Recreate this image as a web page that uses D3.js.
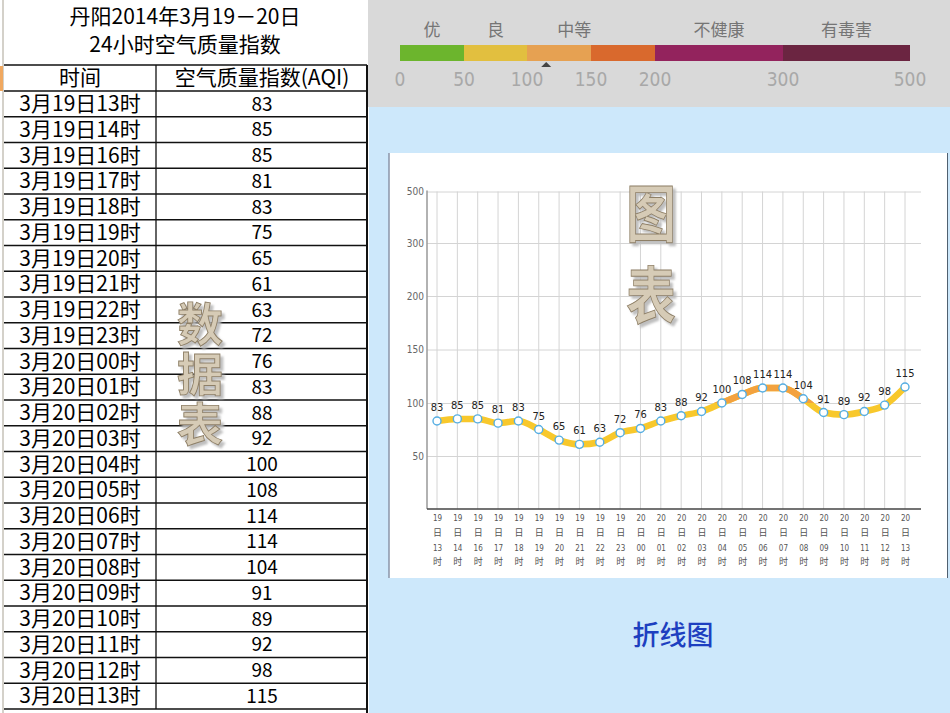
<!DOCTYPE html>
<html>
<head>
<meta charset="utf-8">
<script src="https://cdn.jsdelivr.net/npm/d3@7"></script>
<style>
  body { margin: 0; background: #fff; }
  svg { display: block; }
</style>
</head>
<body>
<div id="chart"></div>
<script>
// data
var days = ['19','19','19','19','19','19','19','19','19','19','20','20','20','20','20','20','20','20','20','20','20','20','20','20'];
var hours = ['13','14','16','17','18','19','20','21','22','23','00','01','02','03','04','05','06','07','08','09','10','11','12','13'];
var aqi = [83, 85, 85, 81, 83, 75, 65, 61, 63, 72, 76, 83, 88, 92, 100, 108, 114, 114, 104, 91, 89, 92, 98, 115];
var yTicks = [50, 100, 150, 200, 300, 500];
var levelNames = ['优', '良', '中等', '不健康', '有毒害'];
var levelMid = [25, 75, 137, 250, 400];
var levelBreaks = [0, 50, 100, 150, 200, 300, 500];
var levelColors = ['#6cb52d', '#e2bf3f', '#e6a152', '#d9692d', '#93235d', '#6b2541'];
var currentAqi = 115;

var W = 950, H = 713;
var cjk = '"Noto Sans CJK SC", sans-serif';
var narrow = '"Liberation Sans Narrow", "DejaVu Sans Condensed", sans-serif';

var svg = d3.select('#chart').append('svg')
  .attr('width', W)
  .attr('height', H);

var defs = svg.append('defs');
var shadow = defs.append('filter').attr('id', 'shadow')
  .attr('x', '-20%').attr('y', '-20%').attr('width', '150%').attr('height', '150%');
shadow.append('feDropShadow').attr('dx', 3).attr('dy', 3).attr('stdDeviation', 0.8)
  .attr('flood-color', '#b8b8b8').attr('flood-opacity', 0.9);

// ---------- left: data table ----------
svg.append('rect').attr('x', 0).attr('y', 0).attr('width', 368).attr('height', H).attr('fill', '#fff');
svg.append('line').attr('x1', 3).attr('x2', 3).attr('y1', 0).attr('y2', H)
  .attr('stroke', '#a9a394').attr('stroke-width', 1);
svg.append('rect').attr('x', 0).attr('y', 66).attr('width', 3).attr('height', 25).attr('fill', '#f0a860');

svg.append('text').attr('x', 185).attr('y', 17).attr('dy', '0.35em')
  .attr('text-anchor', 'middle').attr('font-family', cjk).attr('font-size', 21)
  .text('丹阳2014年3月19－20日');
svg.append('text').attr('x', 185).attr('y', 45).attr('dy', '0.35em')
  .attr('text-anchor', 'middle').attr('font-family', cjk).attr('font-size', 21)
  .text('24小时空气质量指数');

var rowY = d3.scaleLinear().domain([0, 1]).range([91, 116.75]);
var tableLeft = 4, colDiv = 156, tableRight = 367;

// header row
svg.append('text').attr('x', 80).attr('y', 78).attr('dy', '0.35em')
  .attr('text-anchor', 'middle').attr('font-family', cjk).attr('font-size', 21).text('时间');
svg.append('text').attr('x', 262).attr('y', 78).attr('dy', '0.35em')
  .attr('text-anchor', 'middle').attr('font-family', cjk).attr('font-size', 21)
  .text('空气质量指数(AQI)');

var rows = svg.append('g');
rows.selectAll('text.t').data(aqi).enter().append('text')
  .attr('class', 't')
  .attr('x', 80)
  .attr('y', function(d, i) { return (rowY(i) + rowY(i + 1)) / 2; })
  .attr('dy', '0.35em')
  .attr('text-anchor', 'middle')
  .attr('font-family', cjk).attr('font-size', 21)
  .text(function(d, i) { return '3月' + days[i] + '日' + hours[i] + '时'; });
rows.selectAll('text.v').data(aqi).enter().append('text')
  .attr('class', 'v')
  .attr('x', 262)
  .attr('y', function(d, i) { return (rowY(i) + rowY(i + 1)) / 2; })
  .attr('dy', '0.35em')
  .attr('text-anchor', 'middle')
  .attr('font-family', cjk).attr('font-size', 19)
  .text(function(d) { return d; });

// table lines
var lineYs = [65].concat(d3.range(aqi.length + 1).map(function(i) { return rowY(i); }));
svg.append('g').selectAll('line').data(lineYs).enter().append('line')
  .attr('x1', tableLeft).attr('x2', tableRight)
  .attr('y1', function(d) { return d; }).attr('y2', function(d) { return d; })
  .attr('stroke', '#111').attr('stroke-width', 1.3);
svg.append('line').attr('x1', colDiv).attr('x2', colDiv).attr('y1', 65).attr('y2', rowY(aqi.length))
  .attr('stroke', '#111').attr('stroke-width', 1.3);
svg.append('line').attr('x1', tableRight).attr('x2', tableRight).attr('y1', 65).attr('y2', H)
  .attr('stroke', '#111').attr('stroke-width', 2);

// embossed watermark words, one character per line
function watermark(chars, cx, cy0, step, size, sx) {
  var g = svg.append('g').attr('filter', 'url(#shadow)');
  chars.split('').forEach(function(c, i) {
    g.append('text')
      .attr('transform', 'translate(' + cx + ',' + (cy0 + i * step) + ') scale(' + sx + ',1)')
      .attr('text-anchor', 'middle').attr('dy', '0.35em')
      .attr('font-family', cjk).attr('font-size', size).attr('font-weight', 'bold')
      .attr('fill', '#d6cbb6').attr('stroke', '#8e7f66').attr('stroke-width', 0.9)
      .text(c);
  });
}
watermark('数据表', 200, 325, 50, 46, 1);

// ---------- right top: AQI scale ----------
svg.append('rect').attr('x', 368).attr('y', 0).attr('width', W - 368).attr('height', 107).attr('fill', '#d9d9d9');
svg.append('rect').attr('x', 369).attr('y', 107).attr('width', W - 369).attr('height', H - 107).attr('fill', '#cde8fb');

var sx = d3.scaleLinear().domain(levelBreaks).range([400, 464, 527, 591, 655, 783, 910]);
var bar = svg.append('g');
bar.selectAll('rect').data(levelColors).enter().append('rect')
  .attr('x', function(d, i) { return sx(levelBreaks[i]); })
  .attr('width', function(d, i) { return sx(levelBreaks[i + 1]) - sx(levelBreaks[i]); })
  .attr('y', 45).attr('height', 16)
  .attr('fill', function(d) { return d; });
bar.selectAll('text.n').data(levelNames).enter().append('text')
  .attr('class', 'n')
  .attr('x', function(d, i) { return sx(levelMid[i]); })
  .attr('y', 30).attr('dy', '0.35em')
  .attr('text-anchor', 'middle').attr('font-family', cjk).attr('font-size', 17)
  .attr('fill', '#757575')
  .text(function(d) { return d; });
bar.selectAll('text.k').data(levelBreaks).enter().append('text')
  .attr('class', 'k')
  .attr('x', function(d) { return sx(d); })
  .attr('y', 79).attr('dy', '0.35em')
  .attr('text-anchor', 'middle').attr('font-family', narrow).attr('font-size', 19)
  .attr('fill', '#a8a8a8')
  .text(function(d) { return d; });
var mx = sx(currentAqi);
bar.append('path')
  .attr('d', 'M' + (mx - 5) + ',67 L' + (mx + 5) + ',67 L' + mx + ',62 Z')
  .attr('fill', '#444');

// ---------- right: line chart ----------
svg.append('rect').attr('x', 389).attr('y', 153).attr('width', 558).attr('height', 425).attr('fill', '#fff');
svg.append('line').attr('x1', 389).attr('x2', 389).attr('y1', 153).attr('y2', 578)
  .attr('stroke', '#8a94a8').attr('stroke-width', 1.5);
svg.append('line').attr('x1', 947.5).attr('x2', 947.5).attr('y1', 153).attr('y2', 578)
  .attr('stroke', '#506070').attr('stroke-width', 1);

var plotL = 427, plotR = 921;
var x = d3.scalePoint().domain(d3.range(aqi.length)).range([437, 905]);
var y = d3.scaleLinear().domain([0, 50, 100, 150, 200, 300, 500])
  .range([509, 456, 403, 349.5, 296, 243, 191.5]);

// horizontal grid + y labels
var yAxis = svg.append('g').attr('transform', 'translate(' + plotL + ',0)')
  .call(d3.axisLeft(y).tickValues(yTicks).tickSize(-(plotR - plotL)).tickPadding(3));
yAxis.select('.domain').remove();
yAxis.selectAll('.tick line').attr('stroke', '#d4d4d4');
yAxis.selectAll('.tick text').attr('font-family', narrow).attr('font-size', 10).attr('fill', '#666');

// vertical grid
svg.append('g').selectAll('line').data(d3.range(aqi.length)).enter().append('line')
  .attr('x1', function(d) { return x(d); }).attr('x2', function(d) { return x(d); })
  .attr('y1', y(500)).attr('y2', y(0))
  .attr('stroke', '#d4d4d4');

svg.append('line').attr('x1', plotL).attr('x2', plotL).attr('y1', y(500) - 1).attr('y2', y(0))
  .attr('stroke', '#999').attr('stroke-width', 1.5);

// x axis
var xAxis = svg.append('g').attr('transform', 'translate(0,' + y(0) + ')')
  .call(d3.axisBottom(x).tickSize(0).tickFormat(''));
xAxis.select('.domain').attr('d', 'M' + plotL + ',0H' + plotR).attr('stroke', '#444').attr('stroke-width', 1.5);
xAxis.selectAll('.tick text').each(function(d) {
  var t = d3.select(this).attr('y', 0).attr('dy', null)
    .attr('font-family', narrow).attr('font-size', 8).attr('fill', '#555');
  var parts = [days[d], '日', hours[d], '时'];
  var ys = [12, 27, 42, 56];
  parts.forEach(function(p, k) {
    t.append('tspan').attr('x', 0).attr('y', ys[k])
      .attr('font-family', k % 2 ? cjk : narrow)
      .attr('font-size', k % 2 ? 9 : 8)
      .text(p);
  });
});

watermark('图表', 651, 215, 82, 62, 0.8);

// line
var line = d3.line()
  .x(function(d, i) { return x(i); })
  .y(function(d) { return y(d); })
  .curve(d3.curveMonotoneX);

svg.append('path').datum(aqi).attr('d', line)
  .attr('fill', 'none').attr('stroke', '#f8c82c').attr('stroke-width', 6.5)
  .attr('stroke-linecap', 'round');

// segment above 100 is drawn orange
defs.append('clipPath').attr('id', 'over100').append('rect')
  .attr('x', x(13)).attr('width', x(21) - x(13))
  .attr('y', y(500)).attr('height', y(100) - y(500));
svg.append('path').datum(aqi).attr('d', line)
  .attr('clip-path', 'url(#over100)')
  .attr('fill', 'none').attr('stroke', '#f3a23e').attr('stroke-width', 6.5);

svg.append('g').selectAll('circle').data(aqi).enter().append('circle')
  .attr('cx', function(d, i) { return x(i); })
  .attr('cy', function(d) { return y(d); })
  .attr('r', 4)
  .attr('fill', '#fff').attr('stroke', '#55aee3').attr('stroke-width', 1.4);

svg.append('g').selectAll('text').data(aqi).enter().append('text')
  .attr('x', function(d, i) { return x(i); })
  .attr('y', function(d) { return y(d) - 10; })
  .attr('text-anchor', 'middle')
  .attr('font-family', narrow).attr('font-size', 11).attr('fill', '#222')
  .text(function(d) { return d; });

// caption
svg.append('text').attr('x', 673).attr('y', 636).attr('dy', '0.35em')
  .attr('text-anchor', 'middle').attr('font-family', cjk).attr('font-size', 27)
  .attr('font-weight', 500).attr('fill', '#1d3fc0')
  .text('折线图');
</script>
</body>
</html>
